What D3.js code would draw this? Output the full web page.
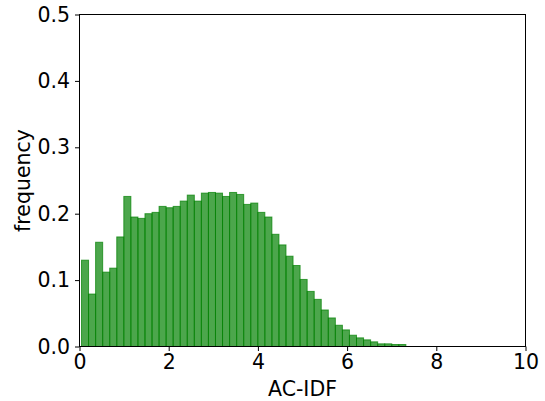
<!DOCTYPE html>
<html>
<head>
<meta charset="utf-8">
<script src="https://cdn.jsdelivr.net/npm/d3@7"></script>
<style>
  html, body { margin: 0; padding: 0; background: #fff; }
  svg { display: block; }
  text { font-family: "DejaVu Sans", sans-serif; fill: #000; }
</style>
</head>
<body>
<svg id="chart" width="545" height="401"></svg>
<script>
// Histogram bins
const binStart = 0.045;
const binWidth = 0.1581;
const frequencies = [
  0.130, 0.079, 0.157, 0.112, 0.118, 0.165, 0.226, 0.195, 0.193, 0.200,
  0.202, 0.211, 0.209, 0.211, 0.219, 0.228, 0.219, 0.231, 0.232, 0.231,
  0.226, 0.232, 0.229, 0.214, 0.216, 0.202, 0.195, 0.169, 0.153, 0.136,
  0.122, 0.101, 0.083, 0.071, 0.055, 0.043, 0.032, 0.025, 0.017, 0.013,
  0.010, 0.007, 0.004, 0.004, 0.003, 0.003
];
const xTicks = [0, 2, 4, 6, 8, 10];
const yTicks = [0.0, 0.1, 0.2, 0.3, 0.4, 0.5];
const xLabel = "AC-IDF";
const yLabel = "frequency";

const bins = frequencies.map((f, i) => ({
  x0: binStart + i * binWidth,
  x1: binStart + (i + 1) * binWidth,
  f
}));

const FS = 20.5;
const L = 79.5, R = 525.5, T = 14.5, B = 346.5;
const svg = d3.select("#chart");
const x = d3.scaleLinear().domain([0, 10]).range([L, R]);
const y = d3.scaleLinear().domain([0, 0.5]).range([B, T]);

svg.append("g").selectAll("rect").data(bins).join("rect")
  .attr("x", d => x(d.x0))
  .attr("y", d => y(d.f))
  .attr("width", d => x(d.x1) - x(d.x0))
  .attr("height", d => y(0) - y(d.f))
  .attr("fill", "rgba(0,128,0,0.7)")
  .attr("stroke", "rgba(0,128,0,0.7)")
  .attr("stroke-width", 1);

const fmtY = d3.format(".1f");
const xAxis = d3.axisBottom(x).tickValues(xTicks).tickFormat(d3.format("d")).tickSize(4.5).tickPadding(3);
const yAxis = d3.axisLeft(y).tickValues(yTicks).tickFormat(fmtY).tickSize(4.5).tickPadding(5);

const gx = svg.append("g").attr("transform", `translate(0,${B})`).call(xAxis);
const gy = svg.append("g").attr("transform", `translate(${L},0)`).call(yAxis);
[gx, gy].forEach(g => {
  g.select(".domain").remove();
  g.selectAll(".tick line").attr("stroke", "#000").attr("stroke-width", 1);
  g.selectAll(".tick text").attr("font-size", FS).attr("font-family", "DejaVu Sans").attr("fill", "#000");
});

// spines
svg.append("rect")
  .attr("x", L).attr("y", T).attr("width", R - L).attr("height", B - T)
  .attr("fill", "none").attr("stroke", "#000").attr("stroke-width", 1);

svg.append("text")
  .attr("x", (L + R) / 2).attr("y", 396)
  .attr("text-anchor", "middle").attr("font-size", FS)
  .text(xLabel);

svg.append("text")
  .attr("transform", `translate(30,${(T + B) / 2}) rotate(-90)`)
  .attr("text-anchor", "middle").attr("font-size", FS)
  .text(yLabel);
</script>
</body>
</html>
